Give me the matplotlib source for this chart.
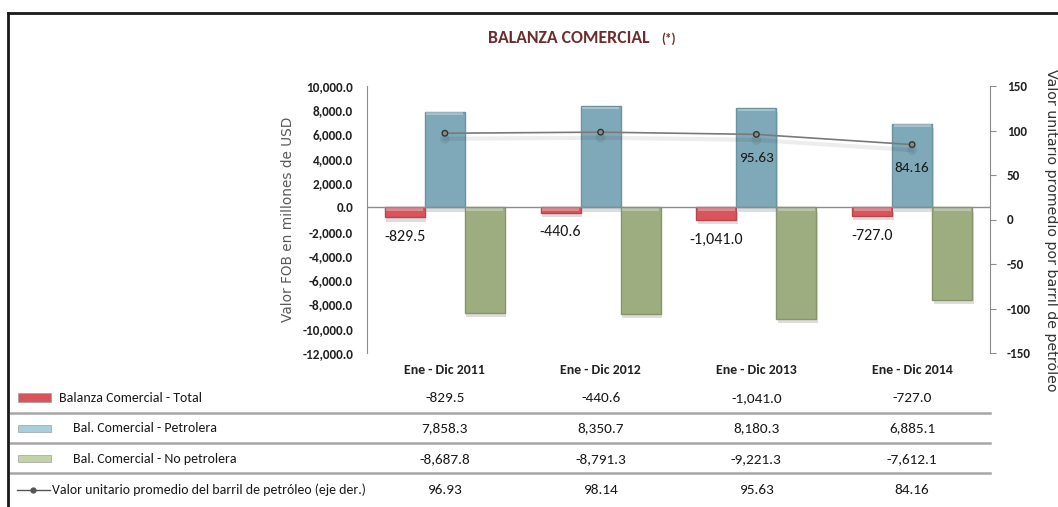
import matplotlib
matplotlib.use("Agg")
import matplotlib.pyplot as plt
import matplotlib.patheffects as pe
import matplotlib.transforms as mtransforms
from matplotlib.lines import Line2D
from matplotlib.patches import Rectangle
import numpy as np

plt.rcParams['font.family'] = ['Carlito', 'DejaVu Sans']

categories = ["Ene - Dic 2011", "Ene - Dic 2012", "Ene - Dic 2013", "Ene - Dic 2014"]
total = [-829.5, -440.6, -1041.0, -727.0]
petrolera = [7858.3, 8350.7, 8180.3, 6885.1]
no_petrolera = [-8687.8, -8791.3, -9221.3, -7612.1]
precio_barril = [96.93, 98.14, 95.63, 84.16]

row_labels = ["Balanza Comercial - Total", "Bal. Comercial - Petrolera",
              "Bal. Comercial - No petrolera",
              "Valor unitario promedio del barril de petróleo (eje der.)"]

red = "#d9545b"
blue = "#7fa8b8"
green = "#9dad7f"
red_sw = "#d9535a"
blue_sw = "#a9cfdc"
green_sw = "#c3d3a5"

W, H = 1058, 507
fig = plt.figure(figsize=(W / 100, H / 100), dpi=100)
ax = fig.add_axes([367 / W, 1 - 353 / H, (990 - 367) / W, (353 - 86) / H])
ax2 = ax.twinx()

x = np.arange(len(categories))
bw = 0.257
shadow = [pe.SimplePatchShadow(offset=(1, -3), shadow_rgbFace="#909090", alpha=0.3), pe.Normal()]

for off, vals, col, ec in [(-bw, total, red, "#b8474d"),
                           (0, petrolera, blue, "#6a93a3"),
                           (bw, no_petrolera, green, "#86966a")]:
    bars = ax.bar(x + off, vals, width=bw, color=col, edgecolor=ec, linewidth=1, zorder=3)
    for b in bars:
        b.set_path_effects(shadow)
    # bevel highlight along the top edge
    for xi, v in zip(x + off, vals):
        top = max(v, 0)
        ax.add_patch(Rectangle((xi - bw / 2 + 0.01, top - 260), bw - 0.02, 220,
                               facecolor="white", alpha=0.3, edgecolor="none", zorder=4))

ax.axhline(0, color="#8c8c8c", lw=1, zorder=5)

ax.set_xlim(-0.5, 3.5)
ax.set_ylim(-12000, 10000)
ax.set_yticks(np.arange(-12000, 10001, 2000))
ax.set_yticklabels([f"{v:,.1f}" for v in np.arange(-12000, 10001, 2000)],
                   fontsize=9.5, fontweight="bold", color="#222222")
ax.set_xticks(x)
ax.set_xticklabels(categories, fontsize=10, fontweight="bold", color="#222222")
ax.tick_params(axis="x", length=0, pad=8)
ax.tick_params(axis="y", length=0, pad=10)
for s in ["top", "bottom", "right"]:
    ax.spines[s].set_visible(False)
ax.spines["left"].set_color("#8c8c8c")
ax.set_ylabel("Valor FOB en millones de USD", family="DejaVu Sans", fontsize=9.8,
              color="#595959", labelpad=5)

for xi, v in zip(x - bw, total):
    ax.annotate(f"{v:,.1f}", (xi, v), xytext=(0, -14), textcoords="offset points",
                ha="center", va="center", fontsize=11.5, color="#1a1a1a", zorder=6)

ax2.plot(x, precio_barril, color="#7a7a7a", lw=1.2, marker="o", markersize=4,
         markerfacecolor="#8a8a8a", markeredgecolor="#333333", zorder=6,
         path_effects=[pe.SimpleLineShadow(offset=(0, -4), alpha=0.07, linewidth=3),
                       pe.Normal()])
for xi, v in list(zip(x, precio_barril))[2:]:
    ax2.annotate(f"{v:.2f}", (xi, v), xytext=(0, -17), textcoords="offset points",
                 ha="center", va="center", fontsize=11, color="#1a1a1a", zorder=7)
ax2.set_ylim(-150, 150)
ax2.set_yticks(np.arange(-150, 151, 50))
ax2.set_yticklabels([str(v) for v in range(-150, 151, 50)], fontsize=9.5,
                    fontweight="bold", color="#222222")
ax2.tick_params(axis="y", direction="out", length=4, color="#8c8c8c", pad=8)
for s in ["top", "bottom", "left"]:
    ax2.spines[s].set_visible(False)
ax2.spines["right"].set_color("#8c8c8c")
ax.set_zorder(ax2.get_zorder() - 1)
ax.patch.set_visible(False)
ax2.patch.set_visible(False)
fig.text(1051 / W, 1 - 230 / H, "Valor unitario promedio por barril de petróleo",
         family="DejaVu Sans", fontsize=10.2, color="#333333", rotation=-90,
         ha="center", va="center")

fig.text(569 / W, 1 - 38 / H, "BALANZA COMERCIAL", fontsize=12.8, fontweight="bold",
         color="#6e2d2d", ha="center", va="center")
fig.text(669 / W, 1 - 39 / H, "(*)", fontsize=9.5, fontweight="bold",
         color="#6e2d2d", ha="center", va="center")

# data table under the chart
row_y = [398, 428, 459, 490]
blend = mtransforms.blended_transform_factory(ax.transData, fig.transFigure)
for series, yy in zip([total, petrolera, no_petrolera], row_y[:3]):
    for xi, v in zip(x, series):
        fig.text(xi, 1 - yy / H, f"{v:,.1f}", transform=blend, fontsize=11,
                 color="#1a1a1a", ha="center", va="center")
for xi, v in zip(x, precio_barril):
    fig.text(xi, 1 - row_y[3] / H, f"{v:.2f}", transform=blend, fontsize=11,
             color="#1a1a1a", ha="center", va="center")

label_x = [59, 73, 73, 52]
for lab, lx, yy in zip(row_labels, label_x, row_y):
    fig.text(lx / W, 1 - yy / H, lab, fontsize=10, color="#1a1a1a", ha="left", va="center")

for col, (y0, h) in zip([red_sw, blue_sw, green_sw], [(393, 9), (425, 7), (455, 7)]):
    fig.add_artist(Rectangle((18 / W, 1 - (y0 + h) / H), 33 / W, h / H,
                             transform=fig.transFigure, facecolor=col,
                             edgecolor="#a0a0a0", linewidth=0.5))
fig.add_artist(Line2D([17 / W, 50 / W], [1 - 490 / H] * 2, transform=fig.transFigure,
                      color="#555555", lw=1))
fig.add_artist(Line2D([33 / W], [1 - 490 / H], transform=fig.transFigure, marker="o",
                      markersize=3.5, color="#555555"))

for yy in [413, 443, 473]:
    fig.add_artist(Line2D([10 / W, 990 / W], [1 - yy / H] * 2, transform=fig.transFigure,
                          color="#a6a6a6", lw=1.8))

# outer frame (top and left visible)
fig.add_artist(Line2D([8 / W, 1], [1 - 13 / H] * 2, transform=fig.transFigure,
                      color="#1a1a1a", lw=2))
fig.add_artist(Line2D([8 / W, 8 / W], [0, 1 - 13 / H], transform=fig.transFigure,
                      color="#1a1a1a", lw=2))

fig.savefig("out.png", dpi=100)
